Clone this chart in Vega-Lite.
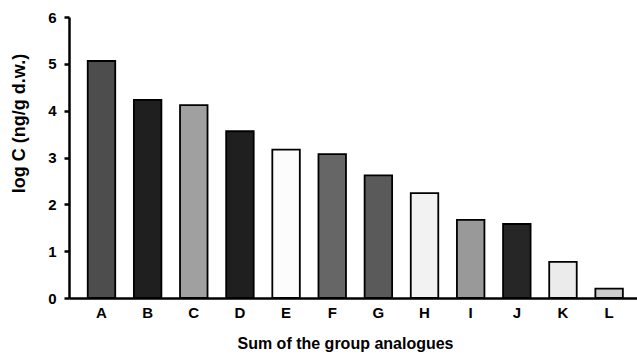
{
  "$schema": "https://vega.github.io/schema/vega-lite/v6.json",
  "width": 568,
  "height": 281,
  "autosize": {"type": "none"},
  "padding": {"left": 69, "top": 17, "right": 0, "bottom": 56},
  "background": "white",
  "config": {
    "view": {"stroke": null},
    "font": "Liberation Sans"
  },
  "data": {
    "values": [
      {"group": "A", "logC": 5.06, "fill": "#4d4d4d"},
      {"group": "B", "logC": 4.23, "fill": "#1f1f1f"},
      {"group": "C", "logC": 4.12, "fill": "#a0a0a0"},
      {"group": "D", "logC": 3.56, "fill": "#1f1f1f"},
      {"group": "E", "logC": 3.17, "fill": "#fcfcfc"},
      {"group": "F", "logC": 3.07, "fill": "#666666"},
      {"group": "G", "logC": 2.62, "fill": "#5a5a5a"},
      {"group": "H", "logC": 2.24, "fill": "#f2f2f2"},
      {"group": "I", "logC": 1.67, "fill": "#999999"},
      {"group": "J", "logC": 1.58, "fill": "#262626"},
      {"group": "K", "logC": 0.77, "fill": "#ebebeb"},
      {"group": "L", "logC": 0.2, "fill": "#cccccc"}
    ]
  },
  "mark": {"type": "bar", "stroke": "black", "strokeWidth": 1.8},
  "encoding": {
    "x": {
      "field": "group",
      "type": "nominal",
      "sort": null,
      "scale": {"paddingInner": 0.404, "paddingOuter": 0.356, "align": 0.57},
      "axis": {
        "title": "Sum of the group analogues",
        "titleFont": "Liberation Sans",
        "titleFontSize": 16,
        "titleFontWeight": "bold",
        "titleColor": "black",
        "titlePadding": 15,
        "titleX": 276,
        "labelAngle": 0,
        "labelFont": "Liberation Sans",
        "labelFontSize": 15,
        "labelFontWeight": "bold",
        "labelColor": "black",
        "labelPadding": 7,
        "ticks": false,
        "domainColor": "black",
        "domainWidth": 2.5,
        "grid": false
      }
    },
    "y": {
      "field": "logC",
      "type": "quantitative",
      "scale": {"domain": [0, 6], "nice": false},
      "axis": {
        "title": "log C (ng/g d.w.)",
        "titleFont": "Liberation Sans",
        "titleFontSize": 18,
        "titleFontWeight": "bold",
        "titleColor": "black",
        "titleX": -41,
        "titleY": 106,
        "values": [0, 1, 2, 3, 4, 5, 6],
        "labelFont": "Liberation Sans",
        "labelFontSize": 15,
        "labelFontWeight": "bold",
        "labelColor": "black",
        "labelPadding": 8,
        "tickSize": 5,
        "tickColor": "black",
        "tickWidth": 2.5,
        "domainColor": "black",
        "domainWidth": 2.5,
        "grid": false
      }
    },
    "fill": {"field": "fill", "type": "nominal", "scale": null, "legend": null}
  }
}
